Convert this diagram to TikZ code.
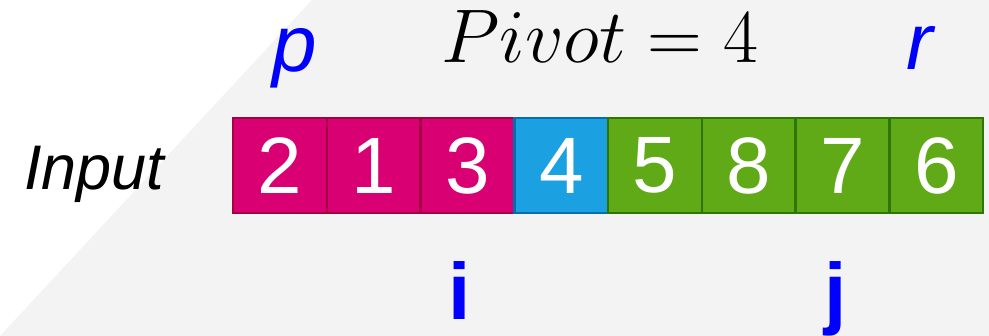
\RequirePackage{fix-cm}
\documentclass[tikz,border=0pt]{standalone}
\usepackage{amsmath}
\usepackage{fontspec}
\newfontfamily\arialfont{Liberation Sans}
\usetikzlibrary{positioning}

\definecolor{bggray}{HTML}{F3F3F3}
\definecolor{lowfill}{HTML}{D80073}
\definecolor{lowdraw}{HTML}{A50040}
\definecolor{pivfill}{HTML}{1BA1E2}
\definecolor{pivdraw}{HTML}{006EAF}
\definecolor{highfill}{HTML}{60A917}
\definecolor{highdraw}{HTML}{2D7600}
\definecolor{ptrblue}{HTML}{0000FF}

\begin{document}
\begin{tikzpicture}[
    x=1pt, y=-1pt,
    cell/.style={draw, line width=2.5pt, minimum width=93.75pt, minimum height=95pt,
      inner sep=0pt, outer sep=0pt, text=white, font=\arialfont\fontsize{80}{96}\selectfont},
    low/.style={cell, fill=lowfill, draw=lowdraw},
    piv/.style={cell, fill=pivfill, draw=pivdraw},
    high/.style={cell, fill=highfill, draw=highdraw},
    ptr/.style={anchor=base, inner sep=0pt, text=ptrblue}
  ]
    % background
    \useasboundingbox (0,0) rectangle (989,336);
    \fill[white] (0,0) rectangle (989,336);
    \fill[bggray] (312,0) -- (989,0) -- (989,336) -- (0,336) -- cycle;

    % array cells
    \node[low] (c1) at (280,165.5) {2};
    \node[low, right=0pt of c1] (c2) {1};
    \node[low, right=0pt of c2] (c3) {3};
    \node[piv, right=0pt of c3] (c4) {4};
    \node[high, right=0pt of c4] (c5) {5};
    \node[high, right=0pt of c5] (c6) {8};
    \node[high, right=0pt of c6] (c7) {7};
    \node[high, right=0pt of c7] (c8) {6};

    \node[anchor=base west, inner sep=0pt, font=\arialfont\itshape\fontsize{63}{76}\selectfont] (inlabel) at (24,190) {Input};

    % pointers
    \node[ptr, font=\arialfont\itshape\fontsize{80}{96}\selectfont] (pp) at (295,72) {p};
    \node[ptr, font=\arialfont\itshape\fontsize{80}{96}\selectfont] (rp) at (920,70) {r};
    \node[ptr, font=\arialfont\bfseries\fontsize{80}{96}\selectfont] (ip) at (460,320) {i};
    \node[ptr, font=\arialfont\bfseries\fontsize{80}{96}\selectfont] (jp) at (836,320) {j};

    \node[anchor=base, inner sep=0pt, font=\fontsize{76}{91}\selectfont] (pivlabel) at (600,63) {$Pivot = 4$};
  \end{tikzpicture}
\end{document}
